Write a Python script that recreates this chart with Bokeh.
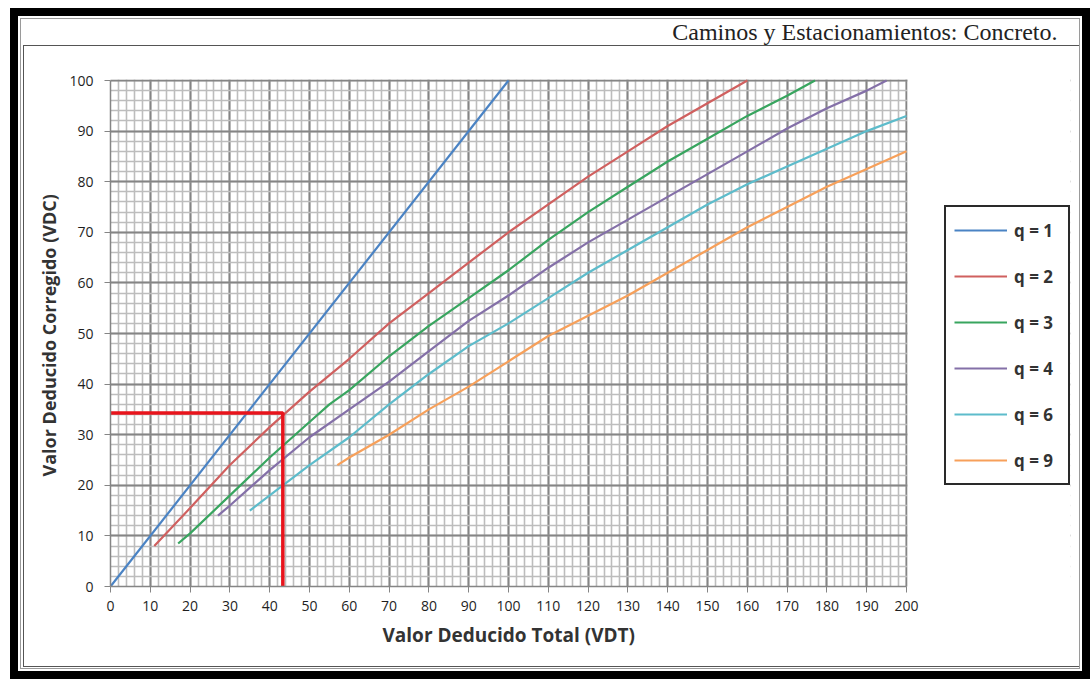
from bokeh.plotting import figure
from bokeh.models import (Range1d, SingleIntervalTicker, Legend, LegendItem,
                          InlineStyleSheet, BoxAnnotation, Label, Title)
from bokeh.embed import file_html
from bokeh.resources import INLINE

# ---------------- data ----------------
q1_x = [0, 100]
q1_y = [0, 100]
q2_x = [11, 20, 30, 40, 50, 60, 70, 80, 90, 100, 110, 120, 130, 140, 150, 160]
q2_y = [8, 15.5, 24, 31.5, 38.5, 45, 52, 58, 64, 70, 75.5, 81, 86, 91, 95.5, 100]
q3_x = [17, 20, 30, 40, 50, 55, 60, 70, 80, 90, 100, 110, 120, 130, 140, 150, 160, 170, 177]
q3_y = [8.5, 10.5, 18, 25.5, 32.5, 36, 38.8, 45.5, 51.5, 57, 62.5, 68.5, 74, 79, 84, 88.5, 93, 97, 100]
q4_x = [27, 30, 40, 50, 60, 70, 80, 90, 100, 110, 120, 130, 140, 150, 160, 170, 180, 190, 195]
q4_y = [14, 16, 23, 29.5, 35, 40.5, 46.5, 52.5, 57.5, 63, 68, 72.5, 77, 81.5, 86, 90.5, 94.5, 98, 100]
q6_x = [35, 40, 50, 60, 70, 80, 90, 100, 110, 120, 130, 140, 150, 160, 170, 180, 190, 200]
q6_y = [15, 18, 24, 29.5, 36, 42, 47.5, 52, 57, 62, 66.5, 71, 75.5, 79.5, 83, 86.5, 90, 93]
q9_x = [57, 60, 70, 80, 90, 100, 110, 120, 130, 140, 150, 160, 170, 180, 190, 200]
q9_y = [24, 25.5, 30, 35, 39.5, 44.5, 49.5, 53.5, 57.5, 62, 66.5, 71, 75, 79, 82.5, 86]

labels = ["q = 1", "q = 2", "q = 3", "q = 4", "q = 6", "q = 9"]
colors = ["#4a83c4", "#d0605f", "#38a55f", "#8470a8", "#5dbccb", "#f7a05a"]

# reading example (VDT -> VDC)
sel_vdt = 43.3
sel_vdc = 34.3

title_text = "Caminos y Estacionamientos: Concreto."
x_title = "Valor Deducido Total (VDT)"
y_title = "Valor Deducido Corregido (VDC)"

X_MAX, Y_MAX = 200, 100

# ---------------- layout (pixels) ----------------
W, H = 1090, 679
PX_LEFT, PX_RIGHT_DATA, PX_RIGHT_FRAME = 110, 906, 1070
PX_BOTTOM, PX_TOP_DATA, PX_TOP_FRAME = 586, 80, 18

x_end = X_MAX * (PX_RIGHT_FRAME - PX_LEFT) / (PX_RIGHT_DATA - PX_LEFT)
y_end = Y_MAX * (PX_BOTTOM - PX_TOP_FRAME) / (PX_BOTTOM - PX_TOP_DATA)


def px_to_x(px):
    return X_MAX * (px - PX_LEFT) / (PX_RIGHT_DATA - PX_LEFT)


def px_to_y(py):
    return Y_MAX * (PX_BOTTOM - py) / (PX_BOTTOM - PX_TOP_DATA)


frame_css = InlineStyleSheet(css="""
:host::before {
  content: ""; position: absolute; left: 23px; top: 45px;
  width: 1057px; height: 622px; box-sizing: border-box;
  border: 1.5px solid #555555; pointer-events: none; z-index: 5;
}
:host::after {
  content: ""; position: absolute; left: 10px; top: 8px;
  width: 1080px; height: 671px; box-sizing: border-box;
  border: 8px solid #000000;
  box-shadow: inset 0 0 0 2px #ffffff, inset 0 0 0 3px #9a9a9a;
  pointer-events: none; z-index: 6;
}
""")

p = figure(width=W, height=H, output_backend="svg", toolbar_location=None,
           x_range=Range1d(0, x_end), y_range=Range1d(0, y_end),
           min_border_left=PX_LEFT, min_border_right=W - PX_RIGHT_FRAME,
           min_border_top=PX_TOP_FRAME, min_border_bottom=H - PX_BOTTOM,
           stylesheets=[frame_css])
p.background_fill_color = "white"
p.border_fill_color = "white"
p.outline_line_color = None

xt = SingleIntervalTicker(interval=10, num_minor_ticks=5)
yt = SingleIntervalTicker(interval=10, num_minor_ticks=5)
p.xaxis.ticker = xt
p.yaxis.ticker = yt
p.xgrid.ticker = xt
p.ygrid.ticker = yt
p.xaxis.bounds = (0, X_MAX)
p.yaxis.bounds = (0, Y_MAX)
p.xgrid.bounds = (0, X_MAX)
p.ygrid.bounds = (0, Y_MAX)

for g in (p.xgrid, p.ygrid):
    g.grid_line_color = "#858585"
    g.grid_line_width = 2
    g.minor_grid_line_color = "#bdbdbd"
    g.minor_grid_line_width = 1.6

for ax in (p.xaxis, p.yaxis):
    ax.axis_line_color = "#858585"
    ax.axis_line_width = 1.5
    ax.major_tick_line_color = "#858585"
    ax.major_tick_out = 6
    ax.major_tick_in = 0
    ax.minor_tick_out = 0
    ax.minor_tick_in = 0
    ax.major_label_text_font = "Open Sans"
    ax.major_label_text_font_size = "14px"
    ax.major_label_text_color = "#1e1e1e"

p.xaxis.major_label_standoff = 8
p.yaxis.major_label_standoff = 11

# axis titles placed along the 0..200 / 0..100 plotting area
xt_title = Title(text=x_title, align="left", offset=272, standoff=13,
                 text_font="Open Sans", text_font_style="bold",
                 text_font_size="19px", text_color="#333333")
p.add_layout(xt_title, "below")
yt_title = Title(text=y_title, align="left", offset=110, standoff=12,
                 text_font="Open Sans", text_font_style="bold",
                 text_font_size="18px", text_color="#333333")
p.add_layout(yt_title, "left")

# white masks outside the 0..200 x 0..100 plotting area (grid lines stop there)
p.add_layout(BoxAnnotation(left=X_MAX + 0.25, fill_color="white", fill_alpha=1,
                           line_color=None, level="underlay"))
p.add_layout(BoxAnnotation(bottom=Y_MAX + 0.2, fill_color="white", fill_alpha=1,
                           line_color=None, level="underlay"))

series = [(q1_x, q1_y), (q2_x, q2_y), (q3_x, q3_y), (q4_x, q4_y), (q6_x, q6_y), (q9_x, q9_y)]
renderers = []
for (xs, ys), c in zip(series, colors):
    renderers.append(p.line(xs, ys, line_color=c, line_width=2.2))

p.line([0, sel_vdt, sel_vdt], [sel_vdc, sel_vdc, 0], line_color="#e8141c", line_width=3.5)

legend = Legend(items=[LegendItem(label=l, renderers=[r]) for l, r in zip(labels, renderers)],
                location=(944 - PX_LEFT, PX_BOTTOM - 485))
legend.border_line_color = "#2a2a2a"
legend.border_line_alpha = 1
legend.border_line_width = 2
legend.background_fill_color = "white"
legend.background_fill_alpha = 1
legend.label_text_font = "Open Sans"
legend.label_text_font_style = "bold"
legend.label_text_font_size = "17px"
legend.label_text_color = "#333333"
legend.glyph_width = 53
legend.glyph_height = 30
legend.label_height = 30
legend.label_width = 46
legend.spacing = 16
legend.padding = 8
legend.margin = 0
legend.label_standoff = 7
p.add_layout(legend, "center")

p.add_layout(Label(x=px_to_x(1057), y=px_to_y(31), text=title_text,
                   text_align="right", text_baseline="alphabetic",
                   text_font="Liberation Serif", text_font_size="24px",
                   text_color="#222222"))

open("out.html", "w").write(file_html(p, INLINE))
